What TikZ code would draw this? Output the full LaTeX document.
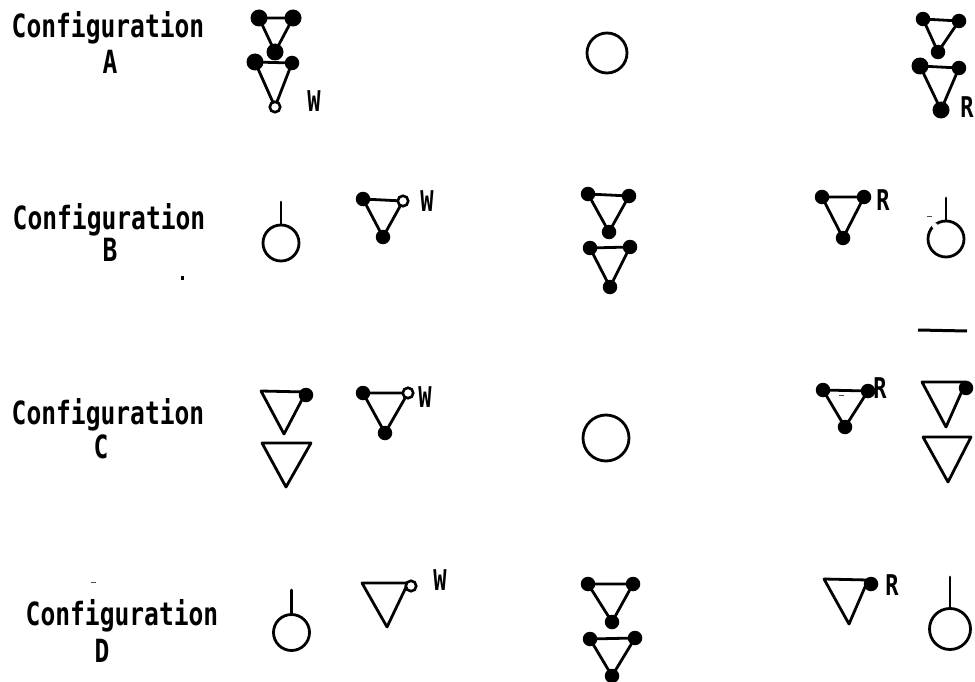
\documentclass[tikz,border=0pt]{standalone}
\usepackage{fontspec}
\setmonofont{DejaVu Sans Mono}
\tikzset{
  edge/.style={line width=2.8pt,line join=round,line cap=round,black},
  fd/.style={circle,fill=black,inner sep=0pt,minimum size=14.5pt},
  big/.style={circle,fill=black,inner sep=0pt,minimum size=17pt},
  od/.style={circle,draw=black,fill=white,line width=2.6pt,inner sep=0pt,minimum size=10.5pt},
  nd/.style={inner sep=0pt,minimum size=0pt},
  ring/.style={circle,draw=black,line width=2.8pt,fill=none,inner sep=0pt},
  lab/.style={inner sep=0pt,font=\ttfamily\bfseries\fontsize{24.6}{24.6}\selectfont},
  tag/.style={inner sep=0pt,font=\ttfamily\bfseries\fontsize{22}{22}\selectfont},
  speck/.style={inner sep=0pt,fill=black!70,minimum width=5pt,minimum height=1pt},
  gapmark/.style={circle,fill=white,inner sep=0pt,minimum size=6pt}
}
\newcommand{\tall}[1]{\scalebox{1}[1.3]{#1}}
% name, p1, p2, p3, style1, style2, style3
\newcommand{\tri}[7]{%
  \coordinate (#1a) at (#2);\coordinate (#1b) at (#3);\coordinate (#1c) at (#4);
  \draw[edge] (#1a) -- (#1b) -- (#1c) -- cycle;
  \node[#5] (#1p) at (#1a) {};\node[#6] (#1q) at (#1b) {};\node[#7] (#1r) at (#1c) {};}
% name, centre, diameter, stick top
\newcommand{\knob}[4]{%
  \node[ring,minimum size=#3pt] (#1) at (#2) {};
  \coordinate (#1t) at (#4);
  \draw[edge] (#1.north) -- (#1t);}
\begin{document}
\begin{tikzpicture}[x=1pt,y=-1pt]
\useasboundingbox (0,0) rectangle (975,682);
% labels
\node[lab] (ta) at (108,28) {\tall{Configuration}};
\node[lab] (la) at (110,62) {\tall{A}};
\node[lab] (tb) at (109,220) {\tall{Configuration}};
\node[lab] (lb) at (110,250) {\tall{B}};
\node[lab] (tc) at (108,415) {\tall{Configuration}};
\node[lab] (lc) at (101,447) {\tall{C}};
\node[lab] (td) at (122,616) {\tall{Configuration}};
\node[lab] (ld) at (102,651) {\tall{D}};
% A
\tri{aa}{259,18}{293,18}{275,52}{big}{big}{big}
\tri{ab}{255,62}{292,63}{275,107}{big}{fd}{od}
\node[tag] (wa) at (314,101) {\tall{W}};
\node[ring,minimum size=40pt] (ca) at (607,53) {};
\tri{ac}{923,19}{959,21}{938,52}{fd}{fd}{fd}
\tri{ad}{920,66}{959,68}{941,110}{big}{fd}{big}
\node[tag] (ra) at (967,107) {\tall{R}};
% B
\knob{kb}{281,243}{36}{281,202}
\tri{ba}{363,199}{403,201}{383,237}{fd}{od}{fd}
\node[tag] (wb) at (427,201) {\tall{W}};
\tri{bb}{588,194}{629,196}{609,232}{fd}{fd}{fd}
\tri{bc}{590,248}{630,247}{610,287}{fd}{fd}{fd}
\tri{bd}{822,197}{864,197}{843,238}{fd}{fd}{fd}
\node[tag] (rb) at (883,200) {\tall{R}};
\knob{kc}{946,239}{36}{946,198}
\node[gapmark] (gc) at (935,226) {};
\node[speck] (sc) at (929,216) {};
\node[fill=black,inner sep=0pt,minimum width=3pt,minimum height=4pt] (db) at (182,278) {};
\coordinate (ds) at (918,330);\coordinate (de) at (967,331);
\draw[line width=3pt,black] (ds) -- (de);
% C
\tri{ca1}{261,391}{306,392}{284,434}{nd}{nd}{nd}
\node[fd] (ca1d) at (306,395) {};
\tri{ca2}{262,443}{311,443}{286,487}{nd}{nd}{nd}
\tri{cb}{363,393}{408,393}{385,433}{fd}{od}{fd}
\node[tag] (wc) at (425,397) {\tall{W}};
\node[ring,minimum size=46pt] (cc) at (606,438) {};
\tri{cd}{823,390}{868,391}{845,427}{fd}{fd}{fd}
\node[speck] (sd) at (841,395) {};
\node[tag] (rc) at (880,388) {\tall{R}};
\tri{ce}{922,382}{966,382}{946,427}{nd}{nd}{nd}
\node[fd] (ced) at (966,388) {};
\tri{cf}{923,437}{971,437}{948,482}{nd}{nd}{nd}
% D
\node[speck] (se) at (93,582) {};
\knob{kd}{291.5,632.5}{36}{291.5,590}
\tri{da}{362,583}{408,583}{387,627}{nd}{nd}{nd}
\node[od] (dao) at (411,586) {};
\node[tag] (wd) at (440,580) {\tall{W}};
\tri{db1}{588,584}{633,584}{612,622}{fd}{fd}{fd}
\tri{dc}{590,639}{635,638}{612,676}{fd}{fd}{fd}
\tri{dd}{824,579}{868,580}{849,624}{nd}{nd}{nd}
\node[fd] (ddd) at (871,584) {};
\node[tag] (rd) at (892,585) {\tall{R}};
\knob{ke}{950,629}{41}{950,577}
\end{tikzpicture}
\end{document}
